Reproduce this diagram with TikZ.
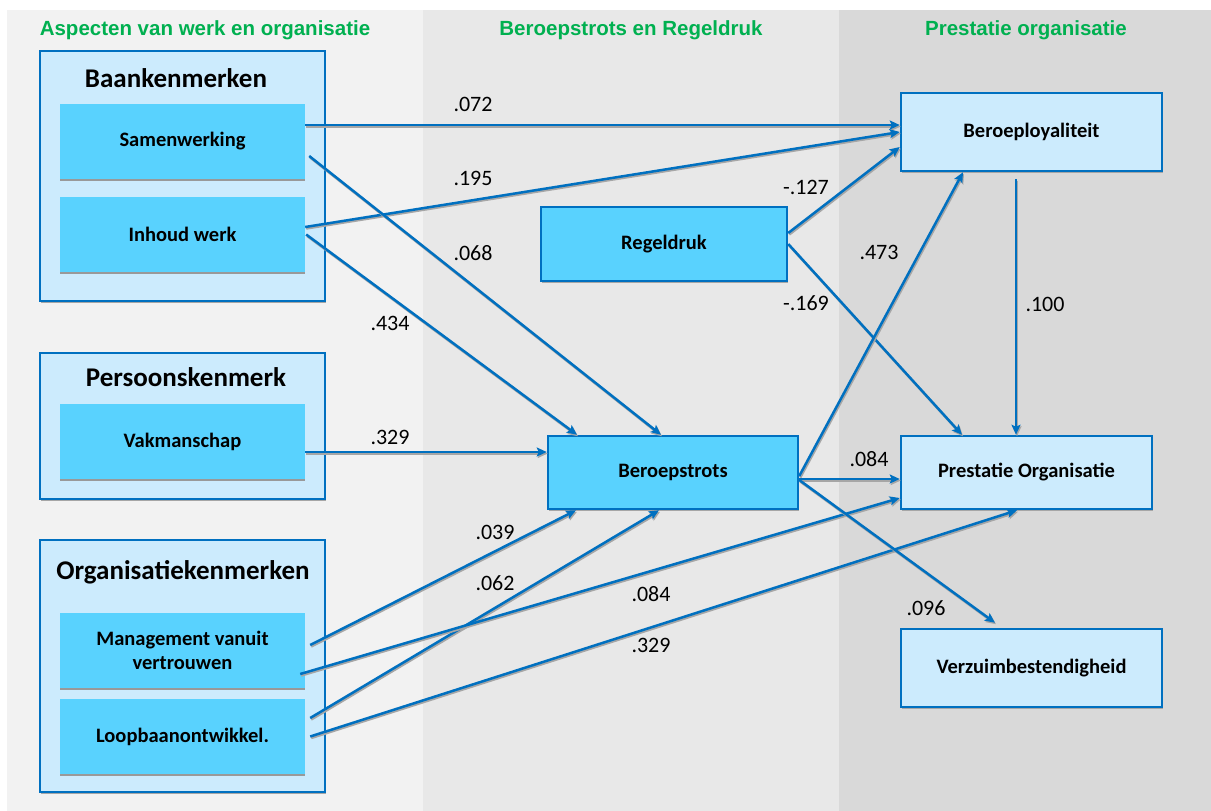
\documentclass[tikz,border=0pt]{standalone}
\usepackage{fontspec}
\setmainfont{Carlito}
\newfontfamily\hdrfont{Liberation Sans}
\usetikzlibrary{arrows.meta,shadows}
\definecolor{paneA}{HTML}{F2F2F2}
\definecolor{paneB}{HTML}{E8E8E8}
\definecolor{paneC}{HTML}{D9D9D9}
\definecolor{lineblue}{HTML}{0070C0}
\definecolor{groupfill}{HTML}{CCEBFD}
\definecolor{boxfill}{HTML}{59D2FE}
\definecolor{hdrgreen}{HTML}{00B050}

\begin{document}
\begin{tikzpicture}[x=1pt,y=-1pt,
  hdr/.style={font=\hdrfont\bfseries\fontsize{20.5}{24}\selectfont,text=hdrgreen,inner sep=0pt},
  grp/.style={draw=lineblue,line width=2.5pt,fill=groupfill,minimum width=285pt,inner sep=0pt,
    drop shadow={shadow xshift=1pt,shadow yshift=-1.5pt,fill=gray!70,opacity=1}},
  grptitle/.style={font=\bfseries\fontsize{27}{30}\selectfont,inner sep=0pt},
  inbox/.style={fill=boxfill,minimum width=245pt,minimum height=75pt,inner sep=0pt,align=center,
    font=\bfseries\fontsize{20.5}{24}\selectfont,
    drop shadow={shadow xshift=0pt,shadow yshift=-1.5pt,fill=gray!80,opacity=1}},
  midbox/.style={draw=lineblue,line width=2.5pt,fill=boxfill,inner sep=0pt,
    font=\bfseries\fontsize{20.5}{24}\selectfont,
    drop shadow={shadow xshift=1pt,shadow yshift=-1.5pt,fill=gray!70,opacity=1}},
  outbox/.style={midbox,fill=groupfill,minimum width=261pt},
  num/.style={font=\fontsize{22}{26}\selectfont,inner sep=0pt},
  arr/.style={draw=lineblue,line width=2.5pt,-{Stealth[length=10pt,width=9pt,inset=2pt]},
    preaction={draw=gray!70,line width=2.5pt,-{Stealth[length=10pt,width=9pt,inset=2pt]},
      transform canvas={shift={(1pt,-1.5pt)}}}}]

\useasboundingbox (0,0) rectangle (1211,811);
\fill[paneA] (7,10) rectangle (423,811);
\fill[paneB] (423,10) rectangle (839,811);
\fill[paneC] (839,10) rectangle (1211,811);

\node[hdr] (h1) at (205,30) {Aspecten van werk en organisatie};
\node[hdr] (h2) at (631,30) {Beroepstrots en Regeldruk};
\node[hdr] (h3) at (1026,30) {Prestatie organisatie};

\node[grp,minimum height=250pt] (baan) at (182.5,176) {};
\node[grptitle] (baant) at (176,78) {Baankenmerken};
\node[inbox] (sam) at (182.5,141.5) {Samenwerking};
\node[inbox] (inh) at (182.5,234.5) {Inhoud werk};

\node[grp,minimum height=146pt] (pers) at (182.5,426) {};
\node[grptitle] (perst) at (186,377) {Persoonskenmerk};
\node[inbox] (vak) at (182.5,441.5) {Vakmanschap};

\node[grp,minimum height=252pt] (org) at (182.5,666) {};
\node[grptitle] (orgt) at (183,572) {Organisatiekenmerken};
\node[inbox] (man) at (182.5,650.5) {Management vanuit\\vertrouwen};
\node[inbox] (loop) at (182.5,736.5) {Loopbaanontwikkel.};

\node[midbox,minimum width=246pt,minimum height=74pt] (regel) at (664,244) {Regeldruk};
\node[midbox,minimum width=250pt,minimum height=73pt] (trots) at (673,472.5) {Beroepstrots};

\node[outbox,minimum height=78pt] (loy) at (1031.5,132) {Beroeployaliteit};
\node[outbox,minimum width=251pt,minimum height=73pt] (prest) at (1026.5,472.5) {Prestatie Organisatie};
\node[outbox,minimum height=78pt] (verz) at (1031.5,668) {Verzuimbestendigheid};

\draw[arr] ([yshift=16.5pt]sam.east) -- ([yshift=7pt]loy.west);
\draw[arr] ([yshift=7.5pt]inh.east) -- (loy.west);
\draw[arr] ([xshift=4pt,yshift=-14.5pt]sam.east) -- ([xshift=-12pt]trots.north);
\draw[arr] ([xshift=1pt]inh.east) -- ([xshift=-96pt]trots.north);
\draw[arr] ([yshift=-10.5pt]vak.east) -- ([yshift=20.5pt]trots.west);
\draw[arr] ([xshift=5pt,yshift=5.5pt]man.east) -- ([xshift=-97pt]trots.south);
\draw[arr] ([xshift=5pt,yshift=18.5pt]loop.east) -- ([xshift=-14pt]trots.south);
\draw[arr] ([xshift=-5pt,yshift=-23.5pt]man.east) -- ([yshift=-25.5pt]prest.west);
\draw[arr] ([xshift=5pt]loop.east) -- ([xshift=-9.5pt]prest.south);
\draw[arr] ([yshift=11pt]regel.east) -- ([yshift=-15pt]loy.west);
\draw[arr] (regel.east) -- ([xshift=-64.5pt]prest.north);
\draw[arr] ([yshift=-3.5pt]trots.east) -- ([xshift=-68.5pt]loy.south);
\draw[arr] ([yshift=-6.5pt]trots.east) -- ([yshift=-6.5pt]prest.west);
\draw[arr] ([yshift=-7.5pt]trots.east) -- ([xshift=-36.5pt,yshift=5pt]verz.north);
\draw[arr] ([xshift=-15.5pt,yshift=-7pt]loy.south) -- ([xshift=-10.5pt]prest.north);

\node[num] (n072) at (473,104) {.072};
\node[num] (n195) at (473,178) {.195};
\node[num] (n068) at (473,253) {.068};
\node[num] (n434) at (390,323) {.434};
\node[num] (n329a) at (390,437) {.329};
\node[num] (n039) at (495,532) {.039};
\node[num] (n062) at (495,583) {.062};
\node[num] (n084a) at (651,594) {.084};
\node[num] (n329b) at (651,645) {.329};
\node[num] (n127) at (806,187) {-.127};
\node[num] (n169) at (806,303) {-.169};
\node[num] (n473) at (879,252) {.473};
\node[num] (n100) at (1045,304) {.100};
\node[num] (n084b) at (869,459) {.084};
\node[num] (n096) at (926,608) {.096};
\end{tikzpicture}
\end{document}
